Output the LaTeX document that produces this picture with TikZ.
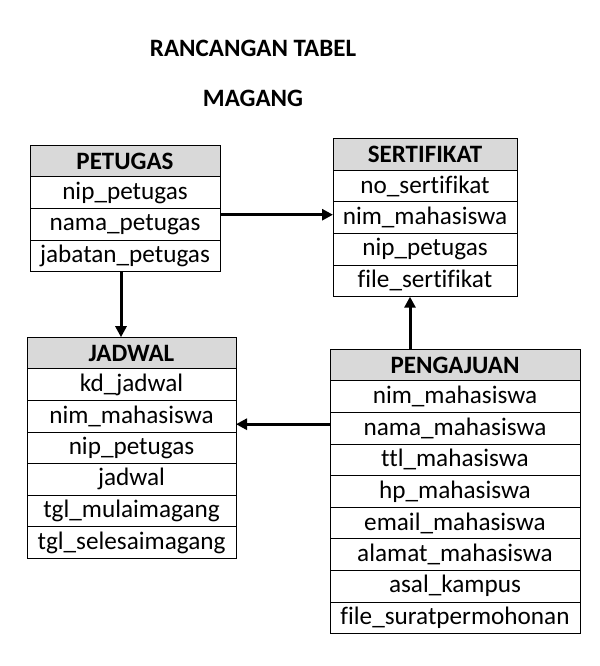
\documentclass[tikz,border=0pt]{standalone}
\usepackage{fontspec}
\setmainfont{Carlito}[Ligatures=NoCommon]
\definecolor{hdrgray}{RGB}{217,217,217}
\usetikzlibrary{arrows.meta,positioning}

\begin{document}
\begin{tikzpicture}[
  x=0.5pt, y=-0.5pt,
  every node/.style={font=\fontsize{12.6pt}{14pt}\selectfont},
  title/.style={font=\fontsize{12.5pt}{14pt}\selectfont\bfseries},
  head/.style={draw,fill=hdrgray,line width=0.5pt,outer sep=0pt,inner sep=0pt,
               minimum height=15.8pt,font=\fontsize{12.5pt}{14pt}\selectfont\bfseries},
  field/.style={draw,fill=white,line width=0.5pt,outer sep=0pt,inner sep=0pt,
                minimum height=15.8pt,below=0pt},
  rel/.style={-{Triangle[length=5.5pt,width=5.5pt]},line width=1.5pt},
]
  \useasboundingbox (0,0) rectangle (600,666);

  % Title
  \node[title] (judul1) at (253,48) {RANCANGAN TABEL};
  \node[title] (judul2) at (253,98) {MAGANG};

  % Tabel petugas
  \node[head,minimum width=95pt] (pet) at (125,161) {PETUGAS};
  \node[field,minimum width=95pt,below=0pt of pet]  (pet1) {nip\_petugas};
  \node[field,minimum width=95pt,below=0pt of pet1] (pet2) {nama\_petugas};
  \node[field,minimum width=95pt,below=0pt of pet2] (pet3) {jabatan\_petugas};

  % Tabel sertifikat
  \node[head,minimum width=92pt] (ser) at (425,154.5) {SERTIFIKAT};
  \node[field,minimum width=92pt,below=0pt of ser]  (ser1) {no\_sertifikat};
  \node[field,minimum width=92pt,below=0pt of ser1] (ser2) {nim\_mahasiswa};
  \node[field,minimum width=92pt,below=0pt of ser2] (ser3) {nip\_petugas};
  \node[field,minimum width=92pt,below=0pt of ser3] (ser4) {file\_sertifikat};

  % Tabel jadwal
  \node[head,minimum width=104.5pt] (jad) at (131.5,353) {JADWAL};
  \node[field,minimum width=104.5pt,below=0pt of jad]  (jad1) {kd\_jadwal};
  \node[field,minimum width=104.5pt,below=0pt of jad1] (jad2) {nim\_mahasiswa};
  \node[field,minimum width=104.5pt,below=0pt of jad2] (jad3) {nip\_petugas};
  \node[field,minimum width=104.5pt,below=0pt of jad3] (jad4) {jadwal};
  \node[field,minimum width=104.5pt,below=0pt of jad4] (jad5) {tgl\_mulaimagang};
  \node[field,minimum width=104.5pt,below=0pt of jad5] (jad6) {tgl\_selesaimagang};

  % Tabel pengajuan
  \node[head,minimum width=125pt] (peng) at (455,365) {PENGAJUAN};
  \node[field,minimum width=125pt,below=0pt of peng]  (peng1) {nim\_mahasiswa};
  \node[field,minimum width=125pt,below=0pt of peng1] (peng2) {nama\_mahasiswa};
  \node[field,minimum width=125pt,below=0pt of peng2] (peng3) {ttl\_mahasiswa};
  \node[field,minimum width=125pt,below=0pt of peng3] (peng4) {hp\_mahasiswa};
  \node[field,minimum width=125pt,below=0pt of peng4] (peng5) {email\_mahasiswa};
  \node[field,minimum width=125pt,below=0pt of peng5] (peng6) {alamat\_mahasiswa};
  \node[field,minimum width=125pt,below=0pt of peng6] (peng7) {asal\_kampus};
  \node[field,minimum width=125pt,below=0pt of peng7] (peng8) {file\_suratpermohonan};

  % Relasi
  \coordinate (sertBawah) at ([xshift=-7.5pt]ser4.south);
  \draw[rel] ([yshift=1.5pt]pet2.east |- ser2.west) -- ([yshift=1.5pt]ser2.west);
  \draw[rel] ([xshift=-2pt]pet3.south) -- ([xshift=-2pt]pet3.south |- jad.north);
  \draw[rel] (sertBawah |- peng.north) -- (sertBawah);
  \draw[rel] ([yshift=2pt]peng2.west) -- ([yshift=2pt]jad2.east |- peng2.west);
\end{tikzpicture}
\end{document}
